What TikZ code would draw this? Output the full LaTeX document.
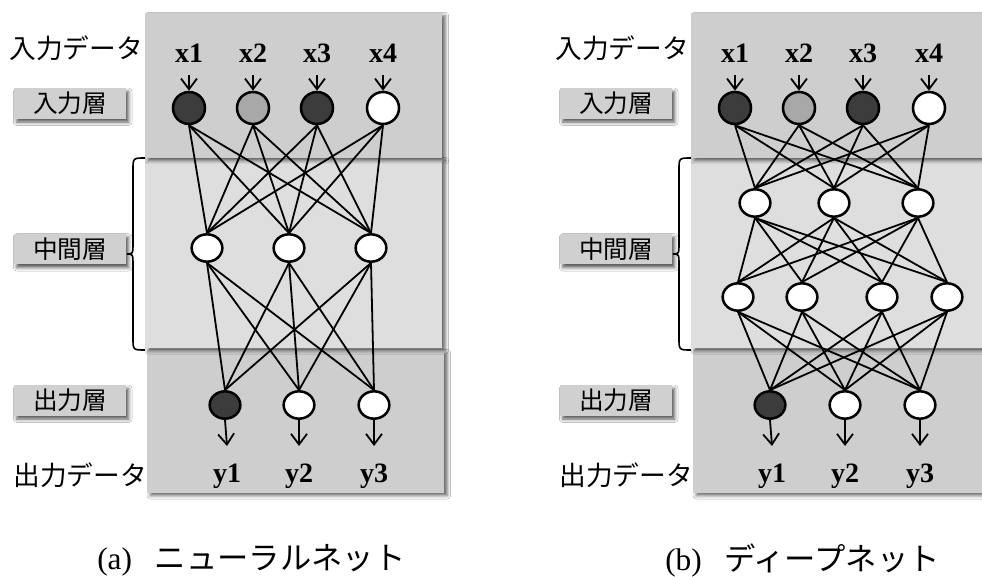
\documentclass[tikz,border=0pt]{standalone}
\usepackage{fontspec}
\setmainfont{Liberation Serif}
\newfontfamily\jp{Noto Sans CJK JP}
\usetikzlibrary{shapes.geometric,arrows.meta,shadows.blur}
\definecolor{boxdark}{RGB}{206,206,206}
\definecolor{boxlight}{RGB}{222,222,222}
\definecolor{labfill}{RGB}{208,208,208}
\definecolor{ndark}{RGB}{60,60,60}
\definecolor{ngrey}{RGB}{168,168,168}
\tikzset{
  layerbox/.style={blur shadow={shadow xshift=2.5pt,shadow yshift=-2pt,shadow blur radius=2.5pt,shadow opacity=60}},
  labbox/.style={fill=labfill,minimum width=84pt,minimum height=23pt,inner sep=0pt,
     font=\jp\fontsize{18.5pt}{19pt}\selectfont,
     blur shadow={shadow xshift=2pt,shadow yshift=-2.5pt,shadow blur radius=2.5pt,shadow opacity=65}},
  jptext/.style={font=\jp\fontsize{20pt}{20pt}\selectfont,inner sep=0pt},
  vlabel/.style={font=\bfseries\fontsize{21pt}{21pt}\selectfont,inner sep=0pt},
  innode/.style={circle,draw,line width=1.9pt,minimum size=24pt,inner sep=0pt},
  neuron/.style={ellipse,draw,line width=1.9pt,minimum width=23pt,minimum height=20.5pt,inner sep=0pt,fill=white},
  conn/.style={line width=1.35pt},
  arr/.style={line width=1.35pt,-{Straight Barb[length=8pt,width=12pt]}},
  bracepath/.style={line width=1.2pt},
  caption/.style={font=\fontsize{23.5pt}{24pt}\selectfont,inner sep=0pt,anchor=west}
}
\begin{document}
\begin{tikzpicture}[x=0.75pt,y=-0.75pt]
\clip (0,0) rectangle (982,577);
\fill[white] (0,0) rectangle (982,577);

% ================= panel (a) =================
\fill[boxdark,layerbox] (147,350) rectangle (444,493);
\fill[boxlight,layerbox] (145,158) rectangle (442,348);
\fill[boxdark,layerbox] (145,13) rectangle (442,158);

\node[jptext] (a-indata) at (76,48) {入力データ};
\node[jptext] (a-outdata) at (80,475) {出力データ};
\node[labbox] (a-inlab) at (70,103.5) {入力層};
\node[labbox] (a-midlab) at (70,249) {中間層};
\node[labbox] (a-outlab) at (70,400.5) {出力層};
\draw[bracepath] (145,158) .. controls (133,158) .. (133,170) -- (133,242)
   .. controls (133,254) .. (127,254) .. controls (133,254) .. (133,266)
   -- (133,338) .. controls (133,350) .. (145,350);

% input layer
\node[innode,fill=ndark] (ai1) at (189,108) {};
\node[innode,fill=ngrey] (ai2) at (253,108) {};
\node[innode,fill=ndark] (ai3) at (317,108) {};
\node[innode,fill=white] (ai4) at (383,108) {};
\foreach \i/\x in {1/189,2/253,3/317,4/383}{
  \node[vlabel] (axl\i) at (\x,53) {x\i};
  \coordinate (axs\i) at (\x,75);
  \draw[arr] (axs\i) -- (ai\i.north);
}
% hidden
\node[neuron] (ah1) at (207,248) {};
\node[neuron] (ah2) at (289,248) {};
\node[neuron] (ah3) at (371,248) {};
% output
\node[neuron,fill=ndark] (ao1) at (225,405) {};
\node[neuron] (ao2) at (299,405) {};
\node[neuron] (ao3) at (374,405) {};
\foreach \i/\x in {1/227,2/299,3/374}{
  \node[vlabel] (ayl\i) at (\x,476) {y\i};
  \coordinate (aye\i) at (\x,446);
  \draw[arr] (ao\i.south) -- (aye\i);
}
\foreach \i in {1,...,4}{\foreach \j in {1,2,3}{\draw[conn] (ai\i.south) -- (ah\j.north);}}
\foreach \i in {1,2,3}{\foreach \j in {1,2,3}{\draw[conn] (ah\i.south) -- (ao\j.north);}}

\node[caption] (a-cap) at (97,560) {(a)\hspace{17pt}{\jp ニューラルネット}};

% ================= panel (b) =================
\fill[boxdark,layerbox] (693,350) rectangle (990,493);
\fill[boxlight,layerbox] (691,158) rectangle (988,348);
\fill[boxdark,layerbox] (691,13) rectangle (988,158);

\node[jptext] (b-indata) at (622,48) {入力データ};
\node[jptext] (b-outdata) at (626,475) {出力データ};
\node[labbox] (b-inlab) at (616,103.5) {入力層};
\node[labbox] (b-midlab) at (616,249) {中間層};
\node[labbox] (b-outlab) at (616,400.5) {出力層};
\draw[bracepath] (691,158) .. controls (679,158) .. (679,170) -- (679,242)
   .. controls (679,254) .. (673,254) .. controls (679,254) .. (679,266)
   -- (679,338) .. controls (679,350) .. (691,350);

\node[innode,fill=ndark] (bi1) at (735,108) {};
\node[innode,fill=ngrey] (bi2) at (799,108) {};
\node[innode,fill=ndark] (bi3) at (863,108) {};
\node[innode,fill=white] (bi4) at (929,108) {};
\foreach \i/\x in {1/735,2/799,3/863,4/929}{
  \node[vlabel] (bxl\i) at (\x,53) {x\i};
  \coordinate (bxs\i) at (\x,75);
  \draw[arr] (bxs\i) -- (bi\i.north);
}
\node[neuron] (bh1) at (755,203) {};
\node[neuron] (bh2) at (834,203) {};
\node[neuron] (bh3) at (918,203) {};
\node[neuron] (bk1) at (738,297) {};
\node[neuron] (bk2) at (802,297) {};
\node[neuron] (bk3) at (882,297) {};
\node[neuron] (bk4) at (947,297) {};
\node[neuron,fill=ndark] (bo1) at (770,405) {};
\node[neuron] (bo2) at (845,405) {};
\node[neuron] (bo3) at (920,405) {};
\foreach \i/\x in {1/772,2/845,3/920}{
  \node[vlabel] (byl\i) at (\x,476) {y\i};
  \coordinate (bye\i) at (\x,446);
  \draw[arr] (bo\i.south) -- (bye\i);
}
\foreach \i in {1,...,4}{\foreach \j in {1,2,3}{\draw[conn] (bi\i.south) -- (bh\j.north);}}
\foreach \i in {1,2,3}{\foreach \j in {1,...,4}{\draw[conn] (bh\i.south) -- (bk\j.north);}}
\foreach \i in {1,...,4}{\foreach \j in {1,2,3}{\draw[conn] (bk\i.south) -- (bo\j.north);}}

\node[caption] (b-cap) at (665,560) {(b)\hspace{17pt}{\jp ディープネット}};
\end{tikzpicture}
\end{document}
